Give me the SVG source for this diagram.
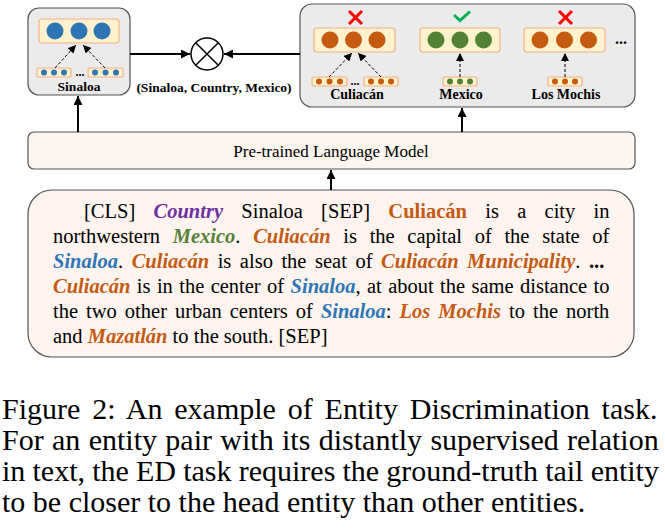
<svg xmlns="http://www.w3.org/2000/svg" width="665" height="532" viewBox="0 0 665 532">
<defs>
<style>
.grp{fill:#ebebeb;stroke:#555;stroke-width:1.2}
.vec{fill:#fff2cc;stroke:#f4b183;stroke-width:1.2}
.b{fill:#2e75b6}.o{fill:#c55a11}.g{fill:#548235}
.lbl{font-family:"Liberation Serif",serif;font-weight:bold;font-size:14px;fill:#000;text-anchor:middle}
.t{font-family:"Liberation Serif",serif;font-size:20.5px;fill:#000}
.bi{font-weight:bold;font-style:italic}
.co{fill:#c55a11}.cb{fill:#2e75b6}.cg{fill:#548235}.cp{fill:#7030a0}
.cap{font-family:"Liberation Serif",serif;font-size:30px;fill:#000}
.solid{stroke:#000;stroke-width:2;fill:none}
.dash{stroke:#000;stroke-width:1;stroke-dasharray:3,2;fill:none}
</style>
<marker id="ah" viewBox="0 0 10 10" refX="10" refY="5" markerWidth="9" markerHeight="9" orient="auto" markerUnits="userSpaceOnUse"><path d="M0,0 L10,5 L0,10 z" fill="#000"/></marker>
<marker id="ahs" viewBox="0 0 10 10" refX="10" refY="5" markerWidth="8" markerHeight="8" orient="auto" markerUnits="userSpaceOnUse"><path d="M0,0 L10,5 L0,10 z" fill="#000"/></marker>
</defs>
<rect width="665" height="532" fill="#fff"/>

<g id="head-sinaloa">
<rect class="grp" x="28" y="8" width="102" height="87" rx="11"/>
<rect class="vec" x="39" y="19" width="80" height="24" rx="3"/>
<circle class="b" cx="55" cy="31" r="8.5"/><circle class="b" cx="79" cy="31" r="8.5"/><circle class="b" cx="102" cy="31" r="8.5"/>
<rect class="vec" x="37" y="68" width="34" height="9" rx="2"/>
<circle class="b" cx="44" cy="72.5" r="3"/><circle class="b" cx="54" cy="72.5" r="3"/><circle class="b" cx="64" cy="72.5" r="3"/>
<text x="80" y="76" class="lbl" style="font-size:12px">...</text>
<rect class="vec" x="88" y="68" width="35" height="9" rx="2"/>
<circle class="b" cx="95" cy="72.5" r="3"/><circle class="b" cx="105.5" cy="72.5" r="3"/><circle class="b" cx="116" cy="72.5" r="3"/>
<path class="dash" d="M55,68 L76,45" marker-end="url(#ahs)"/>
<path class="dash" d="M105,68 L83,45" marker-end="url(#ahs)"/>
<text x="79" y="91" class="lbl" style="font-size:13.5px">Sinaloa</text>
</g>

<g id="otimes">
<circle cx="207" cy="54" r="16" fill="#fff" stroke="#000" stroke-width="1.5"/>
<path d="M195.7,42.7 L218.3,65.3 M218.3,42.7 L195.7,65.3" stroke="#000" stroke-width="1.5"/>
<text x="214" y="92" class="lbl" style="font-size:13.5px">(Sinaloa, Country, Mexico)</text>
</g>

<g id="candidates">
<rect class="grp" x="300" y="4" width="335" height="103" rx="12"/>
<rect class="vec" x="314" y="28" width="81" height="24" rx="3"/>
<circle class="o" cx="330" cy="40" r="8.5"/><circle class="o" cx="353.5" cy="40" r="8.5"/><circle class="o" cx="377" cy="40" r="8.5"/>
<rect class="vec" x="420" y="28" width="80" height="24" rx="3"/>
<circle class="g" cx="436" cy="40" r="8.5"/><circle class="g" cx="460" cy="40" r="8.5"/><circle class="g" cx="483.5" cy="40" r="8.5"/>
<rect class="vec" x="524" y="28" width="81" height="24" rx="3"/>
<circle class="o" cx="540" cy="40" r="8.5"/><circle class="o" cx="564.5" cy="40" r="8.5"/><circle class="o" cx="588.5" cy="40" r="8.5"/>
<text x="621" y="44" class="lbl" style="font-size:16px">...</text>
<path d="M349,11 L362,24 M362,11 L349,24" stroke="#ff0000" stroke-width="3"/>
<path d="M454,15 L460,20.5 L470,11.5" stroke="#00b050" stroke-width="3" fill="none"/>
<path d="M559,11 L572,24 M572,11 L559,24" stroke="#ff0000" stroke-width="3"/>
<rect class="vec" x="312" y="77" width="35" height="9" rx="2"/>
<circle class="o" cx="319" cy="81.5" r="3"/><circle class="o" cx="329.5" cy="81.5" r="3"/><circle class="o" cx="340" cy="81.5" r="3"/>
<text x="355" y="85" class="lbl" style="font-size:12px">...</text>
<rect class="vec" x="364" y="77" width="34" height="9" rx="2"/>
<circle class="o" cx="371" cy="81.5" r="3"/><circle class="o" cx="381" cy="81.5" r="3"/><circle class="o" cx="391" cy="81.5" r="3"/>
<rect class="vec" x="443" y="77" width="34" height="9" rx="2"/>
<circle class="g" cx="450" cy="81.5" r="3"/><circle class="g" cx="460" cy="81.5" r="3"/><circle class="g" cx="470" cy="81.5" r="3"/>
<rect class="vec" x="548" y="77" width="34" height="9" rx="2"/>
<circle class="o" cx="555" cy="81.5" r="3"/><circle class="o" cx="565" cy="81.5" r="3"/><circle class="o" cx="575" cy="81.5" r="3"/>
<path class="dash" d="M329,77 L352,53" marker-end="url(#ahs)"/>
<path class="dash" d="M381,77 L358,53" marker-end="url(#ahs)"/>
<path class="dash" d="M460,77 L460,53" marker-end="url(#ahs)"/>
<path class="dash" d="M565,77 L565,53" marker-end="url(#ahs)"/>
<text x="357" y="99" class="lbl">Culiacán</text>
<text x="461" y="99" class="lbl">Mexico</text>
<text x="566" y="99" class="lbl">Los Mochis</text>
</g>

<g id="plm">
<rect x="28" y="132" width="607" height="37" rx="6" fill="#fdf5ef" stroke="#555" stroke-width="1.2"/>
<text x="331" y="157" style="font-family:'Liberation Serif',serif;font-size:17px;text-anchor:middle">Pre-trained Language Model</text>
</g>

<g id="input-text">
<rect x="28" y="190" width="606" height="167" rx="24" fill="#fdf4ef" stroke="#555" stroke-width="1.2"/>
<text class="t" x="84" y="218" word-spacing="13.15">[CLS] <tspan class="bi cp">Country</tspan> Sinaloa [SEP] <tspan class="co" font-weight="bold">Culiacán</tspan> is a city in</text>
<text class="t" x="53" y="243" word-spacing="7.55">northwestern <tspan class="bi cg">Mexico</tspan>. <tspan class="bi co">Culiacán</tspan> is the capital of the state of</text>
<text class="t" x="53" y="268" word-spacing="3.42"><tspan class="bi cb">Sinaloa</tspan>. <tspan class="bi co">Culiacán</tspan> is also the seat of <tspan class="bi co">Culiacán Municipality</tspan>. <tspan font-weight="bold">...</tspan></text>
<text class="t" x="53" y="293" word-spacing="1.25"><tspan class="bi co">Culiacán</tspan> is in the center of <tspan class="bi cb">Sinaloa</tspan>, at about the same distance to</text>
<text class="t" x="53" y="318" word-spacing="2.9">the two other urban centers of <tspan class="bi cb">Sinaloa</tspan>: <tspan class="bi co">Los Mochis</tspan> to the north</text>
<text class="t" x="53" y="343">and <tspan class="bi co">Mazatlán</tspan> to the south. [SEP]</text>
</g>

<g id="connectors">
<path class="solid" d="M130,54 L190,54" marker-end="url(#ah)"/>
<path class="solid" d="M300,54 L224,54" marker-end="url(#ah)"/>
<path class="solid" d="M78,132 L78,96" marker-end="url(#ah)"/>
<path class="solid" d="M462,132 L462,108" marker-end="url(#ah)"/>
<path class="solid" d="M331,190 L331,170" marker-end="url(#ah)"/>
</g>

<text class="cap" x="2" y="419" word-spacing="4.36">Figure 2: An example of Entity Discrimination task.</text>
<text class="cap" x="2" y="450" word-spacing="0.85">For an entity pair with its distantly supervised relation</text>
<text class="cap" x="2" y="481" word-spacing="-0.32">in text, the ED task requires the ground-truth tail entity</text>
<text class="cap" x="2" y="512">to be closer to the head entity than other entities.</text>
</svg>
